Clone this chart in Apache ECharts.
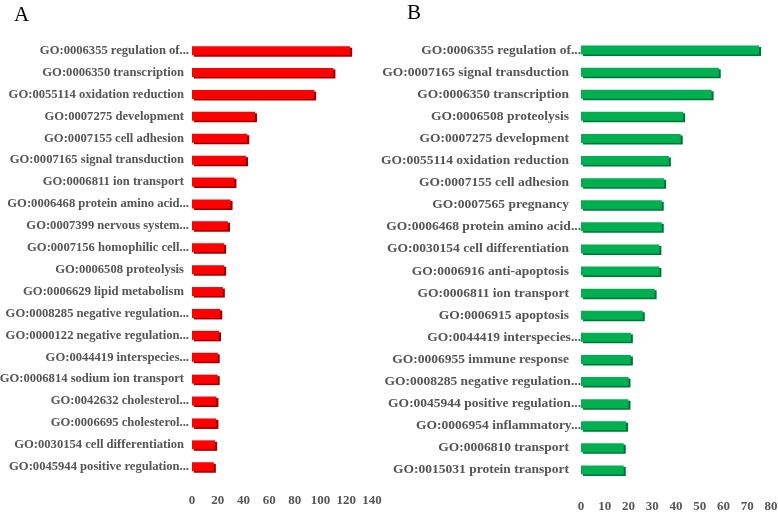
<!DOCTYPE html>
<html>
<head>
<meta charset="utf-8">
<script src="https://cdn.jsdelivr.net/npm/echarts@6/dist/echarts.min.js"></script>
<style>html,body{margin:0;padding:0;background:#fff}#c{width:778px;height:513px}</style>
</head>
<body>
<div id="c"></div>
<script>
const catsA = ["GO:0006355 regulation of...","GO:0006350 transcription","GO:0055114 oxidation reduction","GO:0007275 development","GO:0007155 cell adhesion","GO:0007165 signal transduction","GO:0006811 ion transport","GO:0006468 protein amino acid...","GO:0007399 nervous system...","GO:0007156 homophilic cell...","GO:0006508 proteolysis","GO:0006629 lipid metabolism","GO:0008285 negative regulation...","GO:0000122 negative regulation...","GO:0044419 interspecies...","GO:0006814 sodium ion transport","GO:0042632 cholesterol...","GO:0006695 cholesterol...","GO:0030154 cell differentiation","GO:0045944 positive regulation..."];
const valsA = [123,110,95,49,43,42,33,30,28,25,25,24,22,21,20,20,19,19,18,17];
const ticksA = [0,20,40,60,80,100,120,140];

const catsB = ["GO:0006355 regulation of...","GO:0007165 signal transduction","GO:0006350 transcription","GO:0006508 proteolysis","GO:0007275 development","GO:0055114 oxidation reduction","GO:0007155 cell adhesion","GO:0007565 pregnancy","GO:0006468 protein amino acid...","GO:0030154 cell differentiation","GO:0006916 anti-apoptosis","GO:0006811 ion transport","GO:0006915 apoptosis","GO:0044419 interspecies...","GO:0006955 immune response","GO:0008285 negative regulation...","GO:0045944 positive regulation...","GO:0006954 inflammatory...","GO:0006810 transport","GO:0015031 protein transport"];
const valsB = [75,58,55,43,42,37,35,34,34,33,33,31,26,21,21,20,20,19,18,18];
const ticksB = [0,10,20,30,40,50,60,70,80];

const FONT = '"Liberation Serif","Times New Roman",serif';
const GRAY = '#555555';

function catLabel(size, pad, margin){
  return {
    fontFamily: FONT, fontWeight: 'bold', fontSize: size, color: GRAY, margin: margin,
    formatter: v => v.endsWith('...') ? '{e|' + v + '}' : '{p|' + v + '}',
    rich: {
      e: {fontFamily: FONT, fontWeight: 'bold', fontSize: size, color: GRAY},
      p: {fontFamily: FONT, fontWeight: 'bold', fontSize: size, color: GRAY, padding: [0, pad, 0, 0]}
    }
  };
}

const chart = echarts.init(document.getElementById('c'), null, {renderer: 'canvas'});
chart.setOption({
  animation: false,
  backgroundColor: '#ffffff',
  title: [
    {text: 'A', left: 9, top: 0, textStyle: {fontFamily: FONT, fontWeight: 'normal', fontSize: 21, color: '#000'}},
    {text: 'B', left: 402, top: -2, textStyle: {fontFamily: FONT, fontWeight: 'normal', fontSize: 21, color: '#000'}}
  ],
  grid: [
    {left: 192, width: 180, top: 39.7, height: 438, outerBoundsMode: 'none', containLabel: false},
    {left: 581, width: 190, top: 39, height: 442, outerBoundsMode: 'none', containLabel: false}
  ],
  xAxis: [
    {gridIndex: 0, type: 'value', min: ticksA[0], max: ticksA[ticksA.length-1], interval: 20,
     axisLine: {show: false}, axisTick: {show: false}, splitLine: {show: false},
     axisLabel: {fontFamily: FONT, fontWeight: 'bold', fontSize: 13, color: GRAY, margin: 16}},
    {gridIndex: 1, type: 'value', min: ticksB[0], max: ticksB[ticksB.length-1], interval: 10,
     axisLine: {show: false}, axisTick: {show: false}, splitLine: {show: false},
     axisLabel: {fontFamily: FONT, fontWeight: 'bold', fontSize: 13, color: GRAY, margin: 19}}
  ],
  yAxis: [
    {gridIndex: 0, type: 'category', inverse: true, data: catsA,
     axisLine: {show: false}, axisTick: {show: false}, axisLabel: catLabel(12.6, 5, 3)},
    {gridIndex: 1, type: 'category', inverse: true, data: catsB,
     axisLine: {show: false}, axisTick: {show: false}, axisLabel: catLabel(13.5, 12, 0)}
  ],
  series: [
    {type: 'bar', xAxisIndex: 0, yAxisIndex: 0, data: valsA, barWidth: 9,
     itemStyle: {color: '#ff0000', shadowColor: '#9a0000', shadowOffsetX: 2, shadowOffsetY: 1.5, shadowBlur: 0}},
    {type: 'bar', xAxisIndex: 1, yAxisIndex: 1, data: valsB, barWidth: 9,
     itemStyle: {color: '#00b050', shadowColor: '#00753a', shadowOffsetX: 2, shadowOffsetY: 1.5, shadowBlur: 0}}
  ]
});
</script>
</body>
</html>
